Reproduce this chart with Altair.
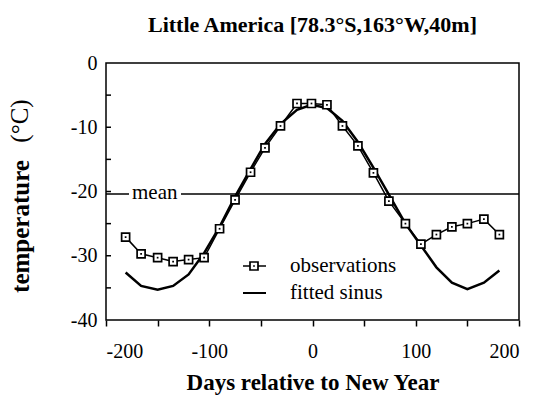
import altair as alt
import pandas as pd

# ---- data ----
days = [-181, -166, -150, -135, -120, -105, -90, -75, -60, -46, -31, -15, -1,
        14, 29, 44, 59, 74, 90, 105, 120, 135, 150, 166, 181]
observed = [-27.1, -29.7, -30.3, -30.9, -30.6, -30.3, -25.8, -21.3, -17.0, -13.2,
            -9.8, -6.3, -6.3, -6.5, -9.8, -12.9, -17.1, -21.5, -25.0, -28.2,
            -26.7, -25.5, -25.0, -24.3, -26.7]
fitted = [-32.6, -34.7, -35.3, -34.7, -32.9, -29.6, -25.5, -20.8, -16.5, -12.6,
          -9.5, -7.3, -6.5, -7.0, -9.0, -12.3, -16.3, -20.5, -25.0, -28.4,
          -31.8, -34.2, -35.2, -34.2, -32.3]
mean_temp = [-20.4]
x_tick_values = [-200, -150, -100, -50, 0, 50, 100, 150, 200]
y_label_values = [-40, -30, -20, -10, 0]
y_inner_ticks = [-35, -30, -25, -20, -15, -10, -5]

TITLE = "Little America [78.3°S,163°W,40m]"
X_TITLE = "Days relative to New Year"
Y_TITLE = "temperature"
Y_UNIT = "(°C)"
SERIF = "Liberation Serif"

df = pd.DataFrame({"day": days, "obs": observed, "fit": fitted})
df_mean = pd.DataFrame({"temp": mean_temp})
df_yt = pd.DataFrame({"temp": y_inner_ticks})

xs = alt.Scale(domain=[-200, 200], nice=False, zero=False)
ys = alt.Scale(domain=[-40, 0], nice=False, zero=False)

xaxis = alt.Axis(values=x_tick_values,
                 labelExpr="datum.value % 100 == 0 ? ('' + datum.value) : ''",
                 tickSize=6, tickWidth=1.5, tickColor="black",
                 labelPadding=15, titlePadding=10, domain=False, grid=False,
                 labelFont=SERIF, labelFontSize=20, labelColor="black",
                 titleFont=SERIF, titleFontSize=23, titleFontWeight="bold",
                 titleColor="black")
yaxis = alt.Axis(values=y_label_values, ticks=False, tickSize=0,
                 labelExpr="'' + datum.value",
                 labelPadding=9, domain=False, grid=False,
                 labelFont=SERIF, labelFontSize=20, labelColor="black",
                 titleFont=SERIF, titleFontSize=25, titleFontWeight="bold",
                 titleColor="black", titleX=-86, titleY=163,
                 titleBaseline="middle", titleAlign="center")

def X(field):
    return alt.X(field, type="quantitative", scale=xs, axis=xaxis, title=X_TITLE)

def Y(field):
    return alt.Y(field, type="quantitative", scale=ys, axis=yaxis, title=Y_TITLE)

fit_line = alt.Chart(df).mark_line(color="black", strokeWidth=2.5).encode(
    x=X("day"), y=Y("fit"))

obs_line = alt.Chart(df).mark_line(color="black", strokeWidth=1.5).encode(
    x=X("day"), y=Y("obs"))

obs_pts = alt.Chart(df).mark_point(shape="square", filled=True, fill="white",
                                   stroke="black", strokeWidth=1.7, size=64,
                                   opacity=1).encode(x=X("day"), y=Y("obs"))
obs_dots = alt.Chart(df).mark_point(shape="square", filled=True, color="black",
                                    size=3, opacity=1).encode(x=X("day"), y=Y("obs"))

inner_ticks = alt.Chart(df_yt).mark_rule(color="black", strokeWidth=1.5).encode(
    y=Y("temp"), x=alt.value(0), x2=alt.value(5))

mean_rule = alt.Chart(df_mean).mark_rule(color="black", strokeWidth=1.5).encode(
    y=Y("temp"))
mean_gap = alt.Chart(df_mean).mark_rule(color="white", strokeWidth=8).encode(
    y=Y("temp"), x=alt.value(23), x2=alt.value(75))
mean_text = alt.Chart(df_mean).mark_text(
    align="left", baseline="alphabetic", dy=5, font=SERIF, fontSize=21,
    color="black").encode(y=Y("temp"), x=alt.value(26), text=alt.value("mean"))

# unit part of the y title, regular weight, rotated
unit_text = alt.Chart(df_mean).mark_text(
    align="center", baseline="middle", angle=270, font=SERIF, fontSize=25,
    color="black").encode(x=alt.value(-86), y=alt.value(58), text=alt.value(Y_UNIT))

# legend (drawn by hand)
leg_y1, leg_y2 = 203, 230
leg_obs_line = alt.Chart(df_mean).mark_rule(color="black", strokeWidth=1.5).encode(
    x=alt.value(137), x2=alt.value(160), y=alt.value(leg_y1))
leg_obs_sq = alt.Chart(df_mean).mark_point(shape="square", filled=True, fill="white",
                                           stroke="black", strokeWidth=1.7, size=64,
                                           opacity=1).encode(
    x=alt.value(148), y=alt.value(leg_y1))
leg_obs_dot = alt.Chart(df_mean).mark_point(shape="square", filled=True, color="black",
                                            size=3, opacity=1).encode(
    x=alt.value(148), y=alt.value(leg_y1))
leg_fit_line = alt.Chart(df_mean).mark_rule(color="black", strokeWidth=2).encode(
    x=alt.value(137), x2=alt.value(160), y=alt.value(leg_y2))
leg_text1 = alt.Chart(df_mean).mark_text(align="left", baseline="middle", font=SERIF,
                                         fontSize=21, color="black").encode(
    x=alt.value(184), y=alt.value(leg_y1), text=alt.value("observations"))
leg_text2 = alt.Chart(df_mean).mark_text(align="left", baseline="middle", font=SERIF,
                                         fontSize=21, color="black").encode(
    x=alt.value(184), y=alt.value(leg_y2), text=alt.value("fitted sinus"))

chart = alt.layer(
    fit_line, obs_line, inner_ticks, mean_rule, mean_gap, mean_text,
    obs_pts, obs_dots, unit_text,
    leg_obs_line, leg_obs_sq, leg_obs_dot, leg_fit_line, leg_text1, leg_text2,
).properties(
    width=413, height=257,
    title=alt.TitleParams(TITLE, font=SERIF, fontSize=22, fontWeight="bold",
                          color="black", anchor="middle", offset=16),
    autosize=alt.AutoSizeParams(type="none"),
    padding={"left": 98, "top": 55, "right": 5, "bottom": 75},
    background="white",
).configure(
    font=SERIF,
    style={"guide-label": {"font": SERIF, "fill": "black"},
           "guide-title": {"font": SERIF, "fill": "black"}},
).configure_view(
    stroke="black", strokeWidth=1.5
).configure_axis(
    labelFont=SERIF, titleFont=SERIF, labelColor="black", titleColor="black"
).configure_title(font=SERIF)

chart.save("out.html", embed_options={"renderer": "svg", "actions": False})
